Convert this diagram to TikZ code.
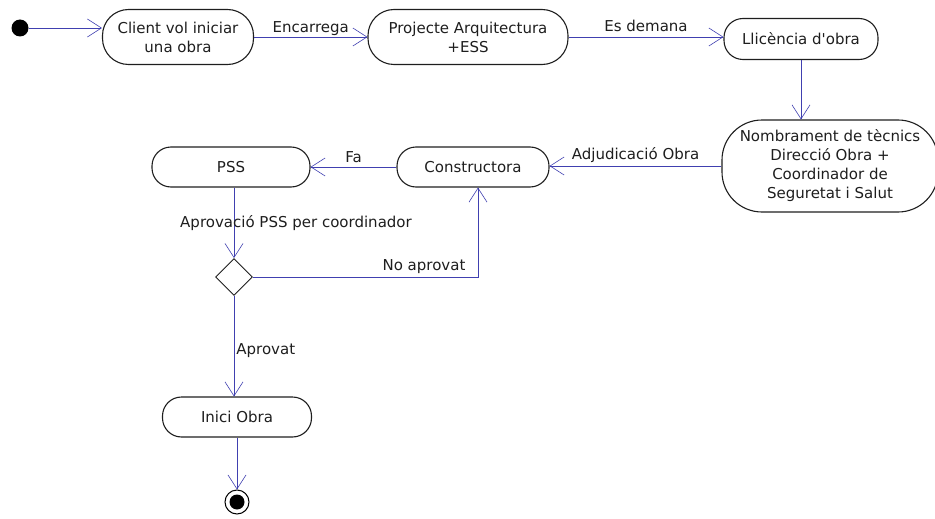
\documentclass[tikz,border=0pt]{standalone}
\usepackage{fontspec}
\setmainfont{DejaVu Sans}[Ligatures=TeXOff]
\usetikzlibrary{arrows.meta,shapes.geometric}
\definecolor{flow}{RGB}{64,64,176}
\definecolor{ink}{RGB}{30,30,30}
\tikzset{
  activity/.style={draw=ink, line width=1.1pt, rounded corners=19pt, align=center,
    inner sep=0pt, font=\fontsize{15}{19}\selectfont, text=ink},
  flowline/.style={draw=flow, line width=0.8pt,
    -{Straight Barb[length=14pt,width=18pt,line width=0.6pt]}},
  lbl/.style={font=\fontsize{15}{19}\selectfont, text=ink, inner sep=0pt},
  decision/.style={draw=ink, line width=0.9pt, diamond, minimum width=37pt,
    minimum height=37pt, inner sep=0pt, aspect=1},
}
\begin{document}
\begin{tikzpicture}[x=1pt,y=-1pt]
\useasboundingbox (0,0) rectangle (935,519);

% states
\node[circle, fill=black, minimum size=17pt, inner sep=0pt] (start) at (20,28) {};
\node[activity, minimum width=151pt, minimum height=55pt, rounded corners=26pt] (client) at (178,37)
  {Client vol iniciar\\una obra};
\node[activity, minimum width=200pt, minimum height=55pt, rounded corners=26pt] (proj) at (468,37)
  {Projecte Arquitectura\\+ESS};
\node[activity, minimum width=154pt, minimum height=41pt] (llic) at (801,39)
  {Llicència d'obra};
\node[activity, minimum width=216pt, minimum height=92pt, rounded corners=40pt] (nomb) at (830,166)
  {Nombrament de tècnics\\Direcció Obra +\\Coordinador de\\Seguretat i Salut};
\node[activity, minimum width=152pt, minimum height=40pt] (cons) at (473,167)
  {Constructora};
\node[activity, minimum width=158pt, minimum height=40pt] (pss) at (231,167)
  {PSS};
\node[decision] (dec) at (234,277) {};
\node[activity, minimum width=149pt, minimum height=40pt] (inici) at (237,417)
  {Inici Obra};
\node[circle, draw=black, line width=1pt, minimum size=24pt, inner sep=0pt] (fin) at (237,502) {};
\node[circle, fill=black, minimum size=15pt, inner sep=0pt] at (fin) {};

% transitions
\draw[flowline] (start) -- (start -| client.west);
\draw[flowline] (client) -- (client -| proj.west)
  node[lbl, pos=0.5, above=1pt] (encarrega) {Encarrega};
\draw[flowline] (proj.east) -- (llic.west |- proj.east)
  node[lbl, pos=0.5, above=5pt] (demana) {Es demana};
\draw[flowline] (llic.south) -- (llic.south |- nomb.north);
\draw[flowline] (nomb.west) -- (cons.east |- nomb.west)
  node[lbl, pos=0.5, above=3pt] (adj) {Adjudicació Obra};
\draw[flowline] (cons.west) -- (pss.east |- cons.west)
  node[lbl, pos=0.5, above=4pt] (fa) {Fa};
\draw[flowline] (pss.south -| dec.north) -- (dec.north)
  node[lbl, pos=0.5, xshift=62pt] (aprov) {Aprovació PSS per coordinador};
\draw[flowline] (dec.east) -| ([xshift=5pt]cons.south)
  node[lbl, pos=0.38, above=3pt] (noap) {No aprovat};
\draw[flowline] (dec.south) -- (dec.south |- inici.north)
  node[lbl, pos=0.5, right=2pt, yshift=-4pt] (ap) {Aprovat};
\draw[flowline] (inici.south -| fin.north) -- (fin.north);
\end{tikzpicture}
\end{document}
